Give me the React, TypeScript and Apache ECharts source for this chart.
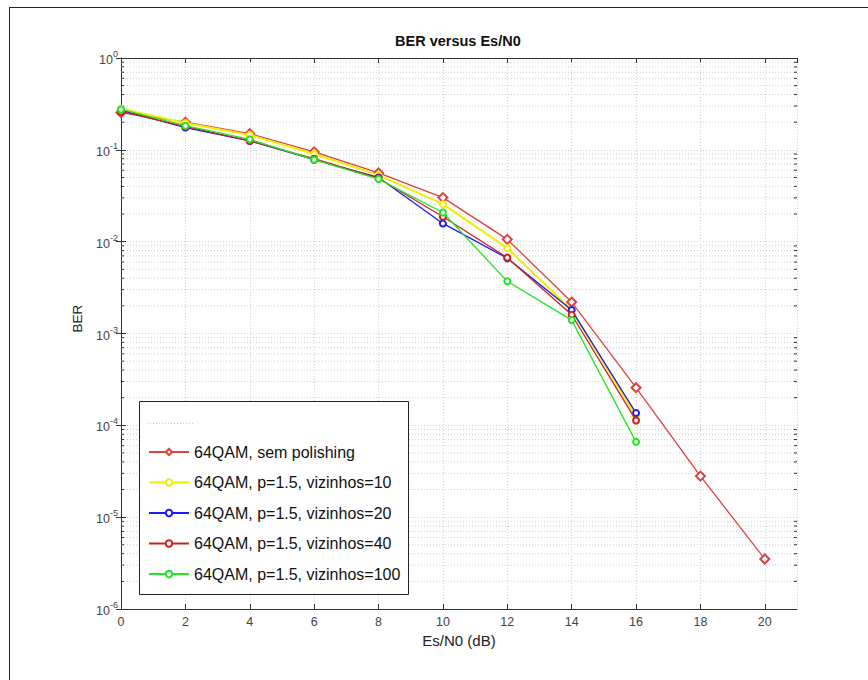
import React, { useEffect, useRef } from "react";
import * as echarts from "echarts";

const esn0 = [0, 2, 4, 6, 8, 10, 12, 14, 16, 18, 20];
const semPolishing = [0.255, 0.2, 0.15, 0.095, 0.056, 0.0302, 0.0106, 0.0022, 2.57e-4, 2.8e-5, 3.5e-6];
const viz10 = [0.28, 0.196, 0.145, 0.09, 0.053, 0.0256, 0.0085, 0.0018, 1.25e-4];
const viz20 = [0.27, 0.175, 0.125, 0.078, 0.05, 0.0158, 0.0066, 0.0018, 1.36e-4];
const viz40 = [0.26, 0.18, 0.125, 0.08, 0.049, 0.0187, 0.0067, 0.0016, 1.13e-4];
const viz100 = [0.275, 0.183, 0.13, 0.078, 0.048, 0.0208, 0.0037, 0.0014, 6.6e-5];

const seriesNames = [
  "64QAM, sem polishing",
  "64QAM, p=1.5, vizinhos=10",
  "64QAM, p=1.5, vizinhos=20",
  "64QAM, p=1.5, vizinhos=40",
  "64QAM, p=1.5, vizinhos=100",
];
const seriesColors = ["#dd4040", "#f2ee00", "#1c1cf0", "#cc2222", "#22e622"];
const seriesSymbols = ["emptyDiamond", "emptyCircle", "emptyCircle", "emptyCircle", "emptyCircle"];
const seriesSymbolSizes = [9, 6, 6, 6, 6];
const seriesData = [semPolishing, viz10, viz20, viz40, viz100];

const titleText = "BER versus Es/N0";
const xName = "Es/N0 (dB)";
const yName = "BER";
const xMin = 0;
const xMax = 21;
const xInterval = 2;
const decades = [-6, -5, -4, -3, -2, -1];
const minorMultipliers = [2, 3, 4, 5, 6, 7, 8, 9];

const FONT = "'Liberation Sans', Arial, Helvetica, sans-serif";

export default function App() {
  const ref = useRef<HTMLDivElement>(null);

  useEffect(() => {
    if (!ref.current) return;
    const chart = echarts.init(ref.current, undefined, { renderer: "svg" });

    const minorValues: number[][] = [];
    decades.forEach((d) => {
      minorMultipliers.forEach((m) => {
        minorValues.push([0, m * Math.pow(10, d)]);
      });
    });

    const gridColor = "#cfcfcf";
    const gridLine = { show: true, lineStyle: { color: gridColor, type: [1, 2] as any, width: 1 } };

    const lineSeries = seriesNames.map((name, i) => ({
      name,
      type: "line",
      xAxisIndex: 0,
      yAxisIndex: 0,
      data: seriesData[i].map((v, j) => [esn0[j], v]),
      symbol: seriesSymbols[i],
      symbolSize: seriesSymbolSizes[i],
      showAllSymbol: true,
      lineStyle: { color: seriesColors[i], width: i === 1 ? 2 : 1.3 },
      itemStyle: { color: seriesColors[i], borderColor: seriesColors[i], borderWidth: 1.3 },
      z: 3 + i * 0.01,
      clip: false,
    }));

    const option: any = {
      animation: false,
      backgroundColor: "#ffffff",
      textStyle: { fontFamily: FONT },
      title: {
        text: titleText,
        left: 395,
        top: 33,
        padding: 0,
        textStyle: { fontFamily: FONT, fontSize: 14.5, fontWeight: "bold", color: "#111" },
      },
      grid: { left: 121, right: 71, top: 58, bottom: 71, containLabel: false },
      xAxis: [
        {
          type: "value",
          min: xMin,
          max: xMax,
          interval: xInterval,
          position: "bottom",
          name: xName,
          nameLocation: "middle",
          nameGap: 16,
          nameTextStyle: { fontFamily: FONT, fontSize: 15, color: "#222", verticalAlign: "top" },
          axisLine: { show: true, lineStyle: { color: "#333", width: 1 } },
          axisTick: { show: true, inside: true, length: 5, lineStyle: { color: "#333" } },
          axisLabel: {
            margin: 6,
            fontFamily: FONT,
            fontSize: 12.5,
            color: "#444",
            showMaxLabel: false,
            formatter: (v: number) => (v > 20 ? "" : String(v)),
          },
          splitLine: gridLine,
        },
        {
          type: "value",
          min: xMin,
          max: xMax,
          interval: xInterval,
          position: "top",
          axisLine: { show: true, lineStyle: { color: "#333", width: 1 } },
          axisTick: { show: true, inside: true, length: 5, lineStyle: { color: "#333" } },
          axisLabel: { show: false },
          splitLine: { show: false },
        },
      ],
      yAxis: [
        {
          type: "log",
          logBase: 10,
          min: 1e-6,
          max: 1,
          interval: 1,
          position: "left",
          name: yName,
          nameLocation: "middle",
          nameGap: 37,
          nameRotate: 90,
          nameTextStyle: { fontFamily: FONT, fontSize: 13.5, color: "#222", padding: [0, 0, 0, 30] },
          axisLine: { show: true, lineStyle: { color: "#333", width: 1 } },
          axisTick: { show: true, inside: true, length: 5, lineStyle: { color: "#333" } },
          axisLabel: {
            margin: 3,
            fontFamily: FONT,
            fontSize: 12.5,
            color: "#444",
            formatter: (v: number) => `{b|10}{s|${Math.round(Math.log10(v))}}`,
            rich: {
              b: { fontFamily: FONT, fontSize: 12.5, color: "#444", verticalAlign: "bottom" },
              s: { fontFamily: FONT, fontSize: 9, color: "#444", verticalAlign: "bottom", padding: [0, 0, 8, 0] },
            },
          },
          splitLine: gridLine,
        },
        {
          type: "log",
          logBase: 10,
          min: 1e-6,
          max: 1,
          interval: 1,
          position: "right",
          axisLine: { show: true, lineStyle: { color: "#333", width: 1 } },
          axisTick: { show: true, inside: true, length: 5, lineStyle: { color: "#333" } },
          axisLabel: { show: false },
          splitLine: { show: false },
        },
      ],
      legend: {
        show: true,
        orient: "vertical",
        left: 148,
        top: 442,
        padding: 0,
        itemWidth: 40,
        itemHeight: 8,
        itemGap: 10.5,
        data: seriesNames,
        textStyle: { fontFamily: FONT, fontSize: 16, color: "#111", lineHeight: 20 },
        z: 10,
      },
      graphic: [
        {
          type: "rect",
          z: 8,
          shape: { x: 139.5, y: 401.5, width: 269, height: 193 },
          style: { fill: "#ffffff", stroke: "#222", lineWidth: 1 },
          silent: true,
        },
        {
          type: "line",
          z: 9,
          shape: { x1: 147, y1: 423.5, x2: 193, y2: 423.5 },
          style: { stroke: "#c8c8c8", lineWidth: 1, lineDash: [1, 2] },
          silent: true,
        },
        {
          type: "line",
          z: 9,
          shape: { x1: 9, y1: 7.5, x2: 868, y2: 7.5 },
          style: { stroke: "#222", lineWidth: 1 },
          silent: true,
        },
        {
          type: "line",
          z: 9,
          shape: { x1: 9.5, y1: 7, x2: 9.5, y2: 680 },
          style: { stroke: "#222", lineWidth: 1 },
          silent: true,
        },
      ],
      series: [
        {
          name: "minorGrid",
          type: "custom",
          xAxisIndex: 0,
          yAxisIndex: 0,
          silent: true,
          z: 1,
          data: minorValues,
          renderItem: (params: any, api: any) => {
            const v = api.value(1);
            const p1 = api.coord([xMin, v]);
            const p2 = api.coord([xMax, v]);
            return {
              type: "group",
              children: [
                {
                  type: "line",
                  shape: { x1: p1[0], y1: p1[1], x2: p2[0], y2: p2[1] },
                  style: { stroke: gridColor, lineWidth: 1, lineDash: [1, 2] },
                },
                {
                  type: "line",
                  shape: { x1: p1[0], y1: p1[1], x2: p1[0] + 3, y2: p1[1] },
                  style: { stroke: "#333", lineWidth: 1 },
                },
                {
                  type: "line",
                  shape: { x1: p2[0] - 3, y1: p2[1], x2: p2[0], y2: p2[1] },
                  style: { stroke: "#333", lineWidth: 1 },
                },
              ],
            };
          },
        },
        ...lineSeries,
      ],
    };

    chart.setOption(option);
    return () => chart.dispose();
  }, []);

  return (
    <div
      ref={ref}
      style={{ position: "absolute", left: 0, top: 0, width: 868, height: 680, background: "#fff" }}
    />
  );
}
